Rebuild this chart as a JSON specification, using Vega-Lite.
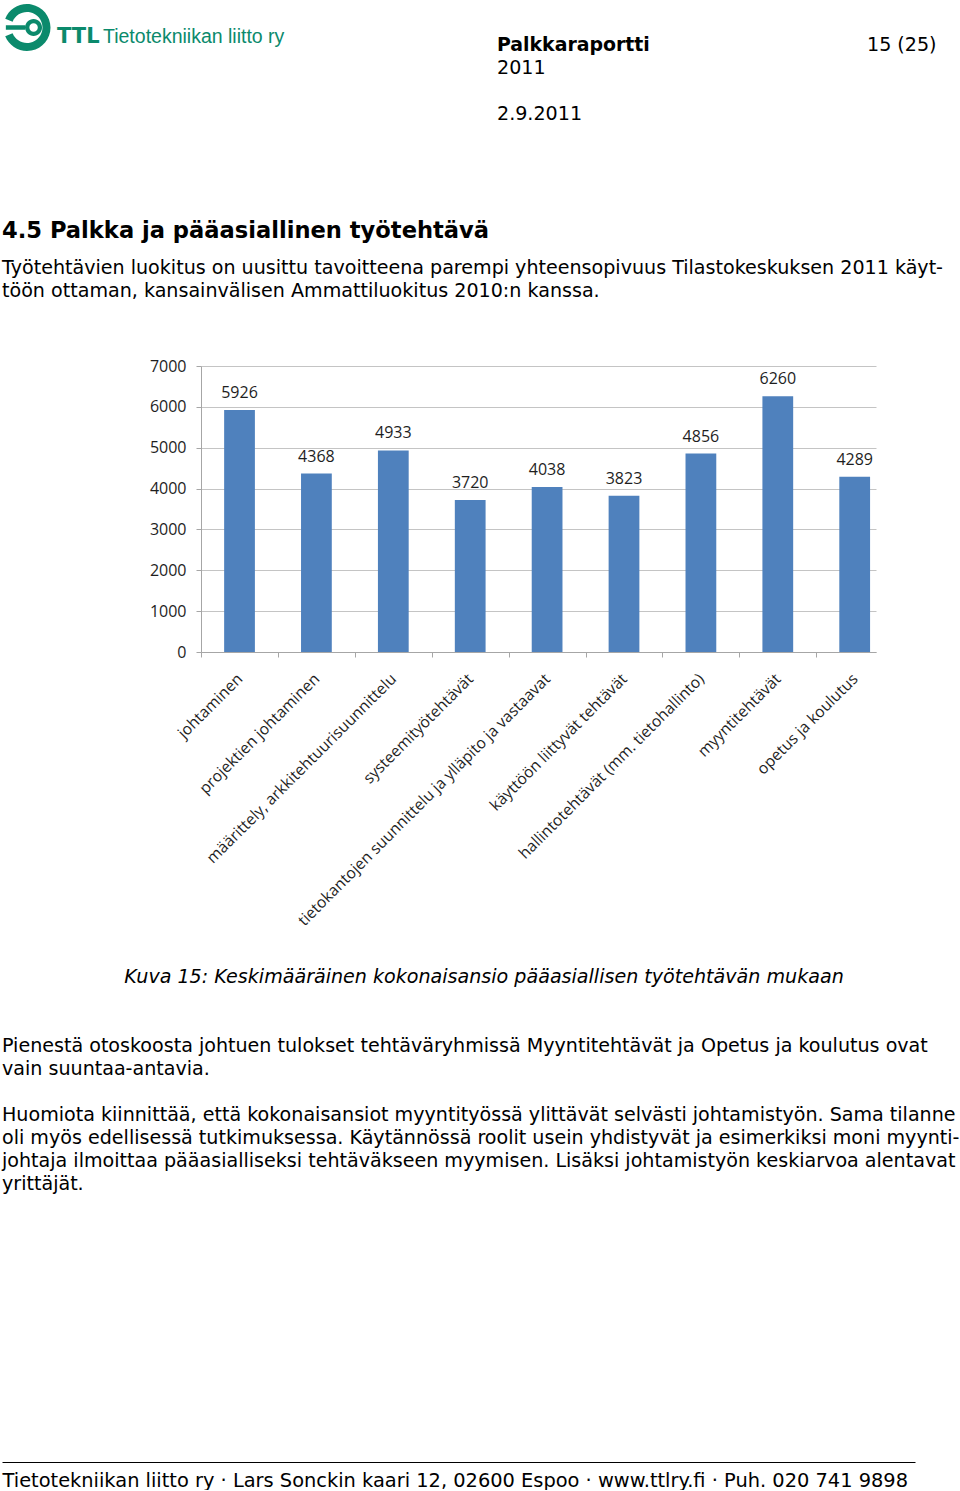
{
  "$schema": "https://vega.github.io/schema/vega-lite/v6.json",
  "background": "white",
  "padding": {"left": 2, "top": 3, "right": 0, "bottom": 0},
  "bounds": "flush",
  "spacing": 0,
  "config": {
    "view": {"stroke": null},
    "title": {"anchor": "start", "frame": "group", "color": "#000000", "subtitleColor": "#000000", "font": "DejaVu Sans", "subtitleFont": "DejaVu Sans"}
  },
  "vconcat": [
    {
      "width": 2, "height": 0.01,
      "data": {"values": [{"item": "logo"}]},
      "mark": {"type": "point", "shape": "M -0.927 -0.375 A 1 1 0 1 1 -0.927 0.375 L -0.612 0.247 A 0.66 0.66 0 1 0 -0.612 -0.247 Z M -0.9 -0.1 L -0.08 -0.1 L -0.08 0.1 L -0.9 0.1 Z M 0.64 0 A 0.36 0.36 0 1 0 -0.08 0 A 0.36 0.36 0 1 0 0.64 0 Z M 0.46 0 A 0.18 0.18 0 1 1 0.1 0 A 0.18 0.18 0 1 1 0.46 0 Z", "filled": true, "color": "#0b8a6c", "opacity": 1, "size": 2209, "xOffset": -175, "yOffset": 19.5},
      "encoding": {}
    },
    {
      "width": 2, "height": 0.01,
      "data": {"values": [{}]},
      "mark": {"type": "text", "text": ""},
      "title": {"text": "TTL", "dx": -144, "offset": -44, "fontSize": 21, "fontWeight": "bold", "color": "#0b8a6c"}
    },
    {
      "width": 2, "height": 0.01,
      "data": {"values": [{}]},
      "mark": {"type": "text", "text": ""},
      "title": {"text": "Tietotekniikan liitto ry", "dx": -98, "font": "Liberation Sans", "fontSize": 19.5, "fontWeight": "normal", "color": "#0b8a6c", "offset": -43}
    },
    {
      "width": 2, "height": 0.01,
      "data": {"values": [{}]},
      "mark": {"type": "text", "text": ""},
      "title": {"text": "Palkkaraportti", "subtitle": ["2011", "\u200b", "2.9.2011"], "dx": 296, "fontSize": 18.9, "fontWeight": "bold", "subtitleFontSize": 19.1, "subtitleFontWeight": "normal", "lineHeight": 23, "subtitleLineHeight": 23, "subtitlePadding": 4.2, "offset": -119.5}
    },
    {
      "width": 2, "height": 353.96,
      "data": {"values": [{}]},
      "mark": {"type": "text", "text": ""},
      "title": {"text": "15 (25)", "dx": 666, "fontSize": 19.1, "fontWeight": "normal", "offset": -43}
    },
    {
      "width": 675, "height": 286,
      "title": {
        "text": "4.5 Palkka ja pääasiallinen työtehtävä",
        "subtitle": ["Työtehtävien luokitus on uusittu tavoitteena parempi yhteensopivuus Tilastokeskuksen 2011 käyt-", "töön ottaman, kansainvälisen Ammattiluokitus 2010:n kanssa."],
        "dx": -199, "fontSize": 22.6, "fontWeight": "bold", "subtitleFontSize": 19.1, "subtitleFontWeight": "normal",
        "lineHeight": 26, "subtitleLineHeight": 23, "subtitlePadding": 16.4, "offset": 57
      },
      "data": {"values": [
        {"tehtava": "johtaminen", "ansio": 5926},
        {"tehtava": "projektien johtaminen", "ansio": 4368},
        {"tehtava": "määrittely, arkkitehtuurisuunnittelu", "ansio": 4933},
        {"tehtava": "systeemityötehtävät", "ansio": 3720},
        {"tehtava": "tietokantojen suunnittelu ja ylläpito ja vastaavat", "ansio": 4038},
        {"tehtava": "käyttöön liittyvät tehtävät", "ansio": 3823},
        {"tehtava": "hallintotehtävät (mm. tietohallinto)", "ansio": 4856},
        {"tehtava": "myyntitehtävät", "ansio": 6260},
        {"tehtava": "opetus ja koulutus", "ansio": 4289}
      ]},
      "encoding": {
        "x": {
          "field": "tehtava", "type": "nominal", "sort": null,
          "scale": {"paddingInner": 0.6, "paddingOuter": 0.189, "align": 0.796, "round": false},
          "axis": {
            "title": "Kuva 15: Keskimääräinen kokonaisansio pääasiallisen työtehtävän mukaan",
            "titleFont": "DejaVu Sans", "titleFontSize": 19.1, "titleFontStyle": "italic", "titleFontWeight": "normal", "titleColor": "#000000",
            "titleX": 282.5, "titleY": 324, "titleAlign": "center", "titleBaseline": "middle",
            "labelAngle": -45, "labelAlign": "right", "labelBaseline": "middle",
            "labelFont": "Open Sans", "labelFontSize": 15.7, "labelColor": "#1e1e1e",
            "labelPadding": 19, "labelLimit": 500, "labelOverlap": false,
            "bandPosition": 0.5, "tickOffset": -38.45, "labelOffset": 38.45,
            "tickSize": 5, "tickColor": "#a6a6a6", "domainColor": "#a6a6a6", "grid": false
          }
        },
        "y": {
          "field": "ansio", "type": "quantitative",
          "scale": {"domain": [0, 7000], "nice": false},
          "axis": {
            "title": null, "values": [0, 1000, 2000, 3000, 4000, 5000, 6000, 7000], "format": "d",
            "labelFont": "Open Sans", "labelFontSize": 16, "labelColor": "#1e1e1e", "labelPadding": 10,
            "tickSize": 5, "tickColor": "#a6a6a6", "domainColor": "#a6a6a6", "gridColor": "#c4c4c4"
          }
        }
      },
      "layer": [
        {"mark": {"type": "bar", "color": "#4f81bd"}},
        {
          "mark": {"type": "text", "baseline": "alphabetic", "dy": -12, "font": "Open Sans", "fontSize": 16, "color": "#1e1e1e"},
          "encoding": {"text": {"field": "ansio", "type": "quantitative", "format": "d"}}
        }
      ]
    },
    {
      "width": 714, "height": 810,
      "data": {"values": [{"v": 0}]},
      "mark": {"type": "text", "text": ""},
      "encoding": {
        "x": {
          "field": "v", "type": "quantitative", "scale": {"domain": [0, 1], "range": [0, 913]},
          "axis": {
            "orient": "bottom", "position": -199, "domain": true, "domainColor": "#000000", "domainWidth": 1, "ticks": false, "labels": false, "grid": false,
            "title": "Tietotekniikan liitto ry · Lars Sonckin kaari 12, 02600 Espoo · www.ttlry.fi · Puh. 020 741 9898",
            "titleFont": "DejaVu Sans", "titleFontSize": 19.4, "titleFontWeight": "normal", "titleColor": "#000000",
            "titleAnchor": "start", "titleAlign": "left", "titlePadding": 9
          }
        }
      },
      "title": {
        "text": [
          "Pienestä otoskoosta johtuen tulokset tehtäväryhmissä Myyntitehtävät ja Opetus ja koulutus ovat",
          "vain suuntaa-antavia.",
          "\u200b",
          "Huomiota kiinnittää, että kokonaisansiot myyntityössä ylittävät selvästi johtamistyön. Sama tilanne",
          "oli myös edellisessä tutkimuksessa. Käytännössä roolit usein yhdistyvät ja esimerkiksi moni myynti-",
          "johtaja ilmoittaa pääasialliseksi tehtäväkseen myymisen. Lisäksi johtamistyön keskiarvoa alentavat",
          "yrittäjät."
        ],
        "dx": -199, "fontSize": 19.1, "fontWeight": "normal", "lineHeight": 23, "offset": -542.5
      }
    }
  ]
}
